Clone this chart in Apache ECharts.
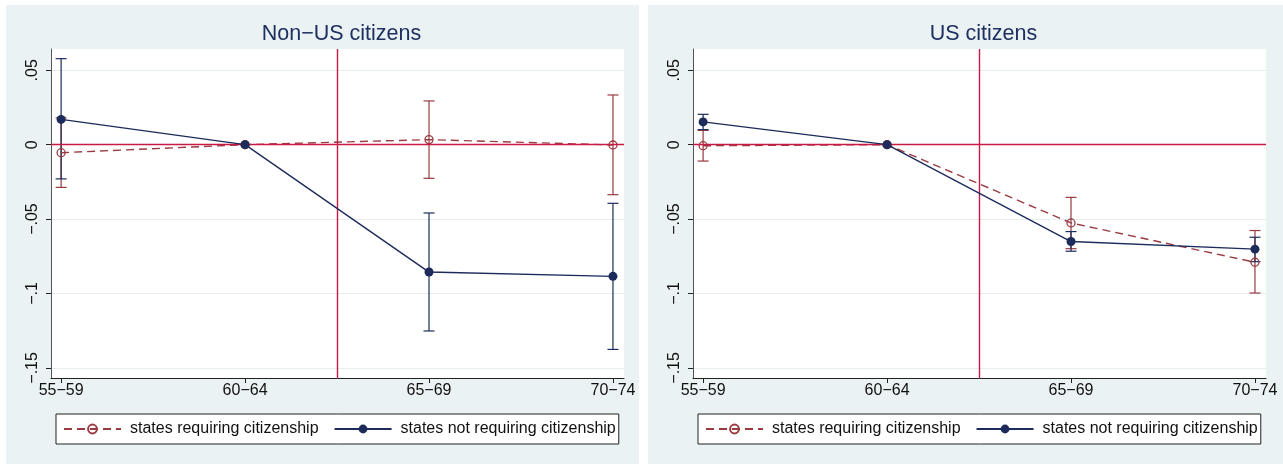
<!DOCTYPE html>
<html>
<head>
<meta charset="utf-8">
<title>Event-study estimates by citizenship</title>
<script src="https://cdn.jsdelivr.net/npm/echarts@6/dist/echarts.min.js"></script>
<style>
  html, body { margin: 0; padding: 0; background: #ffffff; }
  #chart { width: 1283px; height: 464px; }
</style>
</head>
<body>
<div id="chart"></div>
<script>
// Age groups on the horizontal axis
const categories = ['55\u221259', '60\u221264', '65\u221269', '70\u221274'];
const yTicks = [-0.15, -0.1, -0.05, 0, 0.05];
const panelTitles = ['Non\u2212US citizens', 'US citizens'];
const seriesNames = ['states requiring citizenship', 'states not requiring citizenship'];

// Non-US citizens: point estimates and 95% confidence bounds (60-64 is the reference group)
const nonUsReq   = [-0.0054, 0, 0.0034, -0.0002];
const nonUsReqLo = [-0.0287, null, -0.0226, -0.0336];
const nonUsReqHi = [0.0180, null, 0.0294, 0.0334];
const nonUsNot   = [0.0170, 0, -0.0856, -0.0885];
const nonUsNotLo = [-0.0230, null, -0.1252, -0.1376];
const nonUsNotHi = [0.0578, null, -0.0459, -0.0394];

// US citizens
const usReq   = [-0.0007, 0, -0.0526, -0.0790];
const usReqLo = [-0.0110, null, -0.0699, -0.0997];
const usReqHi = [0.0096, null, -0.0354, -0.0577];
const usNot   = [0.0153, 0, -0.0651, -0.0702];
const usNotLo = [0.0101, null, -0.0716, -0.0786];
const usNotHi = [0.0204, null, -0.0584, -0.0622];

const NAVY = '#1d2b5a';
const MAROON = '#9a3a41';
const REFRED = '#c91a45';
const BG = '#eaf2f3';
const FONT = '"Liberation Sans", Arial, sans-serif';

const panels = [
  { req: nonUsReq, reqLo: nonUsReqLo, reqHi: nonUsReqHi, not: nonUsNot, notLo: nonUsNotLo, notHi: nonUsNotHi },
  { req: usReq, reqLo: usReqLo, reqHi: usReqHi, not: usNot, notLo: usNotLo, notHi: usNotHi }
];

const gridLeft = [51, 693];
const gridTop = 49, gridW = 573, gridH = 329;

function points(vals) { return vals.map((v, i) => [i, v]); }
function bounds(lo, hi) {
  const out = [];
  lo.forEach((l, i) => { if (l !== null) out.push([i, l, hi[i]]); });
  return out;
}
function fmtY(v) {
  if (Math.abs(v) < 1e-9) return '0';
  const s = String(Math.round(Math.abs(v) * 100) / 100).replace(/^0/, '');
  return (v < 0 ? '\u2212' : '') + s;
}
function errorBar(color) {
  return function (params, api) {
    const x = api.value(0);
    const top = api.coord([x, api.value(2)]);
    const bot = api.coord([x, api.value(1)]);
    const hw = 5.5;
    const st = { stroke: color, lineWidth: 1.2 };
    return {
      type: 'group',
      children: [
        { type: 'line', shape: { x1: top[0], y1: top[1], x2: bot[0], y2: bot[1] }, style: st },
        { type: 'line', shape: { x1: top[0] - hw, y1: top[1], x2: top[0] + hw, y2: top[1] }, style: st },
        { type: 'line', shape: { x1: bot[0] - hw, y1: bot[1], x2: bot[0] + hw, y2: bot[1] }, style: st }
      ]
    };
  };
}

const grid = [], xAxis = [], yAxis = [], series = [], title = [], legend = [];
panels.forEach((p, k) => {
  grid.push({ left: gridLeft[k], top: gridTop, width: gridW, height: gridH, show: true, backgroundColor: '#ffffff', borderWidth: 0 });
  title.push({
    text: panelTitles[k], left: gridLeft[k] + gridW / 2 - 1, top: 18, textAlign: 'center',
    textStyle: { fontFamily: FONT, fontSize: 21.5, fontWeight: 'normal', color: '#1e3060' }
  });
  xAxis.push({
    type: 'value', gridIndex: k, min: -0.055, max: 3.06,
    axisLine: { show: true, onZero: false, lineStyle: { color: '#222', width: 1 } },
    axisTick: { show: true, length: 5, lineStyle: { color: '#222' }, customValues: [0, 1, 2, 3] },
    axisLabel: { customValues: [0, 1, 2, 3], formatter: v => categories[v], fontFamily: FONT, fontSize: 16, color: '#111', margin: 5 },
    splitLine: { show: false }
  });
  yAxis.push({
    type: 'value', gridIndex: k, min: -0.1568, max: 0.0643,
    axisLine: { show: true, onZero: false, lineStyle: { color: '#555', width: 1 } },
    axisTick: { show: true, length: 5, lineStyle: { color: '#222' }, customValues: yTicks },
    axisLabel: { customValues: yTicks, formatter: fmtY, rotate: 90, fontFamily: FONT, fontSize: 16, color: '#111', margin: 10 },
    splitLine: { show: true, lineStyle: { color: '#e6eeef', width: 1.2 } }
  });
  series.push({
    name: seriesNames[0], type: 'line', xAxisIndex: k, yAxisIndex: k, z: 4,
    data: points(p.req), symbol: 'circle', symbolSize: 8,
    lineStyle: { color: MAROON, width: 1.4, type: [8, 5] },
    itemStyle: { color: 'rgba(255,255,255,0)', borderColor: MAROON, borderWidth: 1.3 },
    emphasis: { disabled: true },
    markLine: {
      silent: true, symbol: 'none', label: { show: false },
      lineStyle: { color: REFRED, type: 'solid', width: 1.4 },
      data: [{ yAxis: 0 }, { xAxis: 1.5 }]
    }
  });
  series.push({
    name: seriesNames[1], type: 'line', xAxisIndex: k, yAxisIndex: k, z: 5,
    data: points(p.not), symbol: 'circle', symbolSize: 9,
    lineStyle: { color: NAVY, width: 1.4, type: 'solid' },
    itemStyle: { color: NAVY, borderColor: NAVY, borderWidth: 0 },
    emphasis: { disabled: true }
  });
});
panels.forEach((p, k) => {
  series.push({
    type: 'custom', xAxisIndex: k, yAxisIndex: k, z: 3, silent: true,
    renderItem: errorBar(MAROON), data: bounds(p.reqLo, p.reqHi)
  });
  series.push({
    type: 'custom', xAxisIndex: k, yAxisIndex: k, z: 3, silent: true,
    renderItem: errorBar(NAVY), data: bounds(p.notLo, p.notHi)
  });
  legend.push({
    data: seriesNames, left: gridLeft[k] + 5, top: 414, orient: 'horizontal',
    backgroundColor: '#ffffff', borderColor: '#222', borderWidth: 1, borderRadius: 0,
    padding: [7, 3, 7, 7], itemWidth: 57, itemHeight: 11, itemGap: 15,
    selectedMode: false,
    textStyle: { fontFamily: FONT, fontSize: 16, color: '#111', padding: [0, 0, 0, 4] }
  });
});

const chart = echarts.init(document.getElementById('chart'), null, { renderer: 'canvas' });
chart.setOption({
  animation: false,
  backgroundColor: '#ffffff',
  graphic: [
    { type: 'rect', z: -10, shape: { x: 6, y: 5, width: 633, height: 459 }, style: { fill: BG } },
    { type: 'rect', z: -10, shape: { x: 648, y: 5, width: 635, height: 459 }, style: { fill: BG } }
  ],
  title, grid, xAxis, yAxis, legend, series
});
</script>
</body>
</html>
